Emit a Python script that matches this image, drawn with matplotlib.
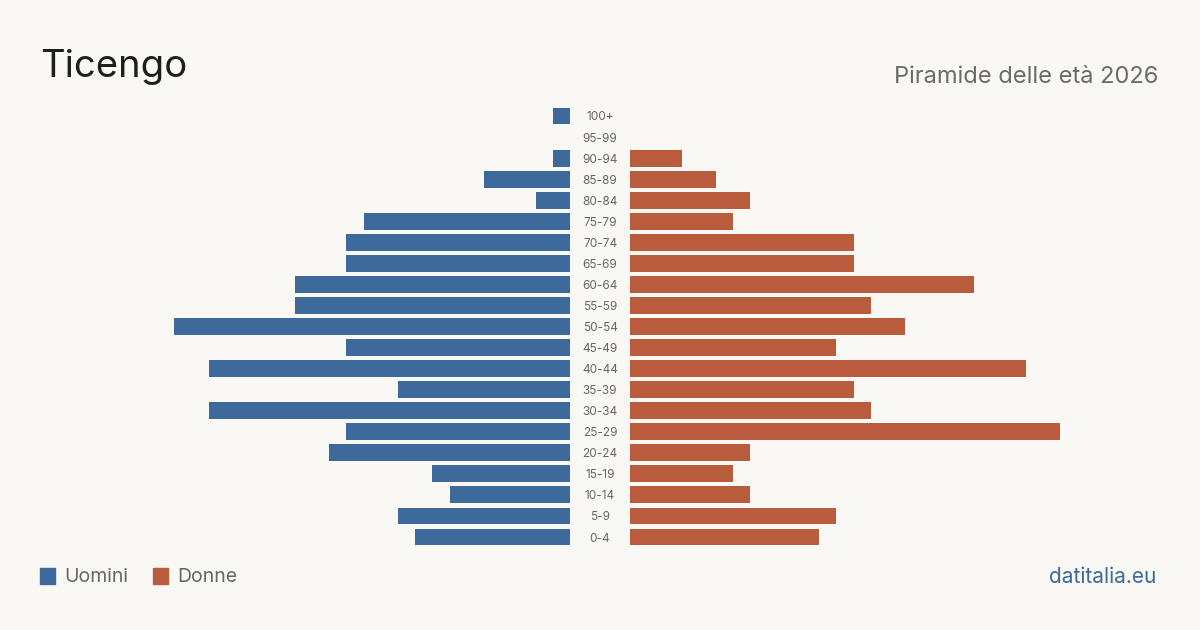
import matplotlib
matplotlib.use("Agg")
import matplotlib.pyplot as plt
import numpy as np
from matplotlib.patches import Rectangle

plt.rcParams["font.family"] = ["Inter", "DejaVu Sans"]

AGE_GROUPS = ["100+", "95-99", "90-94", "85-89", "80-84", "75-79", "70-74",
              "65-69", "60-64", "55-59", "50-54", "45-49", "40-44", "35-39",
              "30-34", "25-29", "20-24", "15-19", "10-14", "5-9", "0-4"]
MEN   = [1, 0, 1, 5, 2, 12, 13, 13, 16, 16, 23, 13, 21, 10, 21, 13, 14, 8, 7, 10, 9]
WOMEN = [0, 0, 3, 5, 7, 6, 13, 13, 20, 14, 16, 12, 23, 13, 14, 25, 7, 6, 7, 12, 11]

BG     = "#f9f8f4"
BLUE   = "#3d6a9a"
ORANGE = "#b85c3b"
W, H = 1200, 630

fig = plt.figure(figsize=(12, 6.3), dpi=100, facecolor=BG)

n = len(AGE_GROUPS)
y = np.arange(n)
top_c, bot_c = 116, 537             # pixel centres of first / last row
step = (bot_c - top_c) / (n - 1)
ax_top = top_c - step / 2
ax_bot = bot_c + step / 2
xmax = 25

def px_axes(x0, x1):
    return fig.add_axes([x0 / W, 1 - ax_bot / H, (x1 - x0) / W, (ax_bot - ax_top) / H])

axl = px_axes(140, 570)
axr = px_axes(630, 1060)
for ax in (axl, axr):
    ax.set_facecolor("none")
    ax.set_ylim(n - 0.5, -0.5)
    ax.axis("off")
axl.set_xlim(xmax, 0)
axr.set_xlim(0, xmax)

axl.barh(y, MEN, height=0.8, color=BLUE)
axr.barh(y, WOMEN, height=0.8, color=ORANGE)

for i, lab in enumerate(AGE_GROUPS):
    fig.text(600 / W, 1 - (top_c + 1.5 + i * step) / H, lab, ha="center", va="center",
             fontsize=8.5, color="#666666")

fig.text(40 / W, 1 - 67 / H, "Ticengo", fontsize=27.5, color="#1e1e1e", va="center")
fig.text(1158 / W, 1 - 77 / H, "Piramide delle età 2026", fontsize=17,
         color="#6b6b6b", ha="right", va="center")

# legend
for x0, col, lab in [(40, BLUE, "Uomini"), (153, ORANGE, "Donne")]:
    fig.patches.append(Rectangle((x0 / W, 1 - 584 / H), 15 / W, 16 / H,
                                 transform=fig.transFigure, color=col))
    fig.text((x0 + 24) / W, 1 - 577 / H, lab, fontsize=14, color="#666666", va="center")

fig.text(1156 / W, 1 - 577 / H, "datitalia.eu", fontsize=15, color=BLUE,
         ha="right", va="center")

fig.savefig("out.png", dpi=100, facecolor=BG)
